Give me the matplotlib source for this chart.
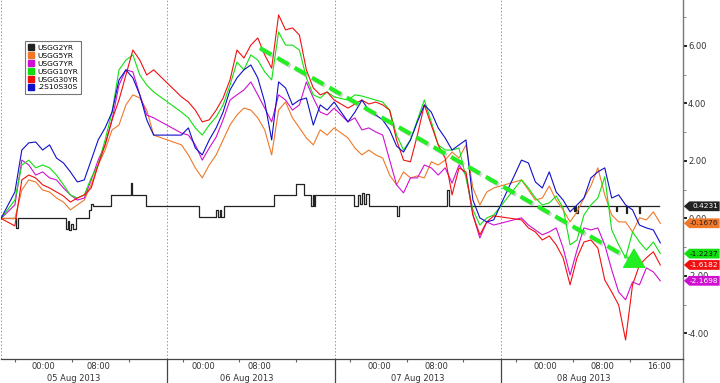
import matplotlib
matplotlib.use("Agg")
import matplotlib.pyplot as plt
import matplotlib.patheffects as pe
from matplotlib.lines import Line2D
from matplotlib.patches import Polygon
from matplotlib.transforms import blended_transform_factory

# time axis in hours from the start of the window (gaps = overnight jumps)
hours = [0] + list(range(2, 23)) + list(range(26, 49)) + list(range(50, 72)) + list(range(75, 96))

usgg5yr = [0.00, 0.00, 0.99, 1.34, 1.27, 0.99, 0.92, 0.71, 0.57, 0.30, 0.47, 0.64, 1.17, 1.86, 2.38, 3.08, 3.25, 3.95, 4.30, 4.19, 3.77, 2.90,
           2.56, 2.21, 1.76, 1.41, 1.86, 2.21, 2.73, 3.25, 3.60, 3.84, 3.77, 3.50, 3.08, 2.21, 3.77, 4.05, 3.50, 3.15, 2.80, 2.56, 3.08, 2.90, 3.15,
           2.80, 2.45, 2.21, 2.38, 2.21, 2.10, 1.51, 1.17, 1.62, 1.41, 1.48, 1.41, 1.97, 1.86, 2.03, 2.31, 2.10, 2.56, 1.06, 0.47, 0.92, 1.06,
           1.34, 0.99, 0.64, 0.71, 1.13, 0.64, 0.30, -0.12, 0.23, 0.71, 1.13, 1.76, 0.82, 0.12, -0.12, -0.12, -0.47, 0.02, -0.05, 0.23, -0.17]

usgg7yr = [0.00, 0.47, 2.03, 1.86, 1.51, 1.62, 1.41, 1.34, 1.06, 0.82, 0.64, 0.71, 1.34, 2.03, 2.56, 3.43, 4.64, 5.17, 5.10, 4.30, 3.60, 3.50,
           2.97, 2.90, 2.56, 2.03, 2.45, 2.83, 3.43, 4.12, 4.30, 4.47, 4.75, 4.30, 3.84, 3.36, 4.30, 4.12, 3.77, 3.95, 4.75, 4.19, 3.70, 3.60, 3.84,
           3.36, 3.50, 3.08, 3.15, 3.01, 2.90, 2.03, 1.17, 0.89, 1.41, 1.41, 1.86, 1.76, 1.51, 1.76, 1.23, 1.86, 1.51, 0.12, -0.68, -0.12, -0.23,
           0.02, -0.23, -0.40, -0.57, -0.47, -0.33, -1.03, -1.97, -1.10, -0.33, -0.40, -0.33, -0.92, -1.79, -2.56, -2.83, -2.21, -2.31, -1.72, -1.86, -2.17]

usgg10yr = [0.00, 0.64, 1.86, 2.03, 1.76, 1.86, 1.76, 1.51, 1.17, 0.82, 0.71, 0.82, 1.41, 1.86, 2.73, 3.70, 5.17, 5.51, 5.69, 4.99, 4.64, 4.40,
            3.70, 3.50, 3.15, 2.90, 3.25, 3.53, 3.95, 4.64, 5.44, 5.17, 5.69, 5.51, 5.10, 4.82, 6.49, 6.03, 6.03, 5.86, 4.89, 4.30, 4.19, 4.40, 4.23,
            4.12, 4.30, 4.26, 4.19, 4.12, 4.05, 3.77, 2.90, 2.38, 2.73, 3.43, 4.12, 3.36, 2.56, 2.38, 2.38, 2.45, 1.41, 0.30, -0.23, 0.02, 0.12,
            1.34, 1.06, 0.71, 0.47, 0.54, 0.78, 0.37, -0.92, -0.75, 0.12, 0.47, 0.71, 1.45, -0.40, -0.92, -1.37, -0.47, -0.82, -1.10, -0.82, -1.22]

usgg30yr = [0.00, -0.26, 1.34, 1.51, 1.41, 1.17, 1.06, 0.92, 0.78, 0.57, 0.71, 0.82, 1.06, 1.86, 2.56, 3.43, 4.12, 4.99, 5.86, 5.51, 4.99, 5.17,
            4.23, 4.05, 3.77, 3.36, 3.43, 3.77, 4.19, 4.82, 5.86, 5.58, 6.03, 6.28, 5.69, 5.23, 7.08, 6.56, 6.63, 6.38, 5.17, 4.54, 4.30, 4.40, 4.12,
            3.84, 3.98, 4.12, 3.98, 4.05, 3.95, 3.77, 2.73, 2.03, 1.97, 2.90, 3.95, 3.25, 2.56, 2.10, 0.82, 1.76, 1.62, 0.12, -0.57, -0.12, 0.09,
            -0.05, -0.33, -0.47, -0.75, -0.61, -0.92, -1.37, -2.31, -1.37, -0.82, -0.75, -1.03, -2.14, -2.56, -3.01, -4.23, -2.31, -1.62, -1.37, -1.16, -1.62]

s2s10s30s = [0.00, 0.92, 2.38, 2.63, 2.66, 2.38, 2.56, 2.10, 1.93, 1.62, 1.27, 1.34, 2.03, 2.73, 3.15, 3.70, 4.82, 5.17, 4.89, 4.30, 3.43, 2.90,
             2.90, 3.15, 2.45, 2.21, 2.73, 3.15, 3.70, 4.47, 4.89, 5.17, 5.34, 4.89, 4.05, 2.73, 4.75, 4.54, 3.95, 4.12, 4.19, 3.25, 3.95, 3.77, 4.05,
             3.36, 3.70, 4.12, 3.77, 3.60, 3.43, 3.08, 2.52, 2.31, 2.73, 3.36, 3.95, 3.70, 3.15, 2.80, 2.38, 2.56, 2.73, 0.64, 0.02, -0.12, -0.05,
             2.03, 1.93, 1.27, 1.06, 1.62, 0.92, 0.64, 0.23, 0.47, 0.71, 1.41, 1.62, 1.76, 0.71, 0.82, 0.47, 0.30, -0.23, -0.33, -0.40, -0.85]

# 2yr moves in steps
usgg2yr_t = [0, 2.1, 2.4, 9.4, 9.6, 9.8, 10.1, 10.4, 10.8, 12.7, 13.0, 13.3, 15.9, 18.7, 18.9, 20.9,
             28.5, 31.0, 31.2, 31.5, 31.7, 32.1, 39.3, 42.5, 43.7, 44.7, 44.9, 45.1, 45.3,
             50.9, 51.4, 51.7, 52.0, 52.3, 52.6, 53.0, 57.0, 57.3, 64.3, 64.5,
             82.5, 82.7, 82.9, 83.1, 88.6, 88.8, 90.0, 90.2, 91.9, 92.1, 94.8]
usgg2yr_v = [0.0, -0.33, 0.0, -0.35, -0.1, -0.4, -0.2, -0.35, 0.0, 0.3, 0.5, 0.42, 0.8, 1.23, 0.8, 0.42,
             0.05, 0.3, 0.05, 0.3, 0.05, 0.42, 0.8, 1.2, 0.8, 0.42, 0.8, 0.42, 0.8,
             0.42, 0.8, 0.5, 0.9, 0.5, 0.85, 0.42, 0.1, 0.42, 0.99, 0.42,
             0.25, 0.42, 0.2, 0.42, 0.25, 0.42, 0.2, 0.42, 0.2, 0.42, 0.42]

names = ["USGG2YR", "USGG5YR", "USGG7YR", "USGG10YR", "USGG30YR", ".2S10S30S"]
last_vals = [0.4231, -0.1676, -1.2237, -1.6182, -2.1698]
last_text = ["0.4231", "-0.1676", "-1.2237", "-1.6182", "-2.1698"]

day_starts = [0, 23.9, 48.1, 72.0]
tick_hours = [2.0, 10.2, 18.4, 26.2, 34.3, 42.5, 50.3, 58.5, 66.6, 74.2, 82.4, 90.6]
time_pos = [6.05, 14.0, 29.1, 37.2, 54.5, 62.7, 78.5, 86.7, 94.8]
time_lbl = ["00:00", "08:00", "00:00", "08:00", "00:00", "08:00", "00:00", "08:00", "16:00"]
date_pos = [10.5, 35.4, 60.1, 84.0]
date_lbl = ["05 Aug 2013", "06 Aug 2013", "07 Aug 2013", "08 Aug 2013"]

trend_start = (37.3, 5.93)
trend_end = (92.9, -1.72)

c_black = "#222222"
c_orange = "#f07828"
c_mag = "#d010d0"
c_green = "#10e010"
c_red = "#f01010"
c_blue = "#1010c8"

fig = plt.figure(figsize=(7.2, 3.83), dpi=100)
ax = fig.add_axes([1 / 720, 24 / 383, 681.5 / 720, 359 / 383])
ax.set_xlim(0, 98.2)
ax.set_ylim(-4.89, 7.6)

# day separators
for d in day_starts:
    ax.axvline(d, color="#999999", lw=0.7, ls=(0, (1.5, 2)), zorder=0)
trans_xa = blended_transform_factory(ax.transData, ax.transAxes)
for d in day_starts[1:]:
    ax.plot([d, d], [0, -0.07], color="#444444", lw=0.9, transform=trans_xa, clip_on=False)
ax.plot([1, 1], [0, -0.07], color="#777777", lw=1.0, transform=ax.transAxes, clip_on=False)

lw = 0.8
ax.plot(usgg2yr_t, usgg2yr_v, color=c_black, lw=0.9, drawstyle="steps-post", zorder=2)
ax.plot(hours, usgg5yr, color=c_orange, lw=lw, zorder=2)
ax.plot(hours, usgg7yr, color=c_mag, lw=lw, zorder=2)
ax.plot(hours, usgg10yr, color=c_green, lw=lw, zorder=2)
ax.plot(hours, usgg30yr, color=c_red, lw=lw, zorder=2)
ax.plot(hours, s2s10s30s, color=c_blue, lw=lw, zorder=2)

# trend arrow
shadow = [pe.SimpleLineShadow(offset=(1.2, -1.2), shadow_color="gray", alpha=0.35), pe.Normal()]
dx = trend_end[0] - trend_start[0]
dy = trend_end[1] - trend_start[1]
base = (trend_start[0] + dx * 0.95, trend_start[1] + dy * 0.95)
ax.plot([trend_start[0], base[0]], [trend_start[1], base[1]], color="#22ee22", lw=3.0,
        dashes=(3.2, 1.6), solid_capstyle="butt", path_effects=shadow, zorder=4)
ax.annotate("", xy=trend_end, xytext=base,
            arrowprops=dict(arrowstyle="-|>,head_length=1.3,head_width=0.75",
                            color="#22ee22", lw=1, shrinkA=0, shrinkB=0), zorder=4)

# axes styling
for s in ["top", "left"]:
    ax.spines[s].set_visible(False)
ax.spines["bottom"].set_color("#444444")
ax.spines["bottom"].set_linewidth(0.9)
ax.spines["right"].set_color("#777777")
ax.spines["right"].set_linewidth(1.0)

ax.set_xticks(tick_hours)
ax.set_xticklabels([])
ax.tick_params(axis="x", direction="out", length=2.5, width=0.8, color="#666666")

ax.yaxis.tick_right()
ax.set_yticks([-4, -2, 0, 2, 4, 6])
ax.set_yticklabels(["%.2f" % v for v in [-4, -2, 0, 2, 4, 6]])
ax.set_yticks([-3, -1, 1, 3, 5, 7], minor=True)
ax.tick_params(axis="y", which="major", direction="out", length=3, width=1.3, color="#111111",
               labelsize=6, labelcolor="#333333", pad=1)
ax.tick_params(axis="y", which="minor", direction="out", length=2, width=0.7, color="#888888")

for p, t in zip(time_pos, time_lbl):
    ax.text(p, -0.02, t, transform=trans_xa, ha="center", va="center", fontsize=6, color="#333333")
for p, t in zip(date_pos, date_lbl):
    ax.text(p, -0.053, t, transform=trans_xa, ha="center", va="center", fontsize=6, color="#333333")

# last value tags on the right
trans_ya = ax.get_yaxis_transform()
tag_face = [c_black, c_orange, c_green, c_red, c_mag]
tag_txt = ["white", "#222222", "#111111", "white", "white"]
h = 0.17
x0, x1, x2 = 1.002, 1.010, 1.0545
for v, t, fc, tc in zip(last_vals, last_text, tag_face, tag_txt):
    poly = Polygon([(x0, v), (x1, v + h), (x2, v + h), (x2, v - h), (x1, v - h)], closed=True,
                   transform=trans_ya, clip_on=False, fc=fc, ec="none", zorder=5)
    ax.add_patch(poly)
    ax.text(x2 - 0.002, v, t, transform=trans_ya, ha="right", va="center",
            fontsize=5.3, color=tc, zorder=6, clip_on=False)

handles = [Line2D([], [], marker="s", ls="none", markersize=4.5, color=c, markeredgecolor=c)
           for c in [c_black, c_orange, c_mag, c_green, c_red, c_blue]]
leg = ax.legend(handles, names, loc="upper left", bbox_to_anchor=(0.035, 0.885), fontsize=5.4,
                frameon=True, fancybox=False, handlelength=0.8, handletextpad=0.4,
                labelspacing=0.22, borderpad=0.45, borderaxespad=0)
leg.get_frame().set_edgecolor("#555555")
leg.get_frame().set_linewidth(0.8)

fig.savefig("out.png", dpi=100)
